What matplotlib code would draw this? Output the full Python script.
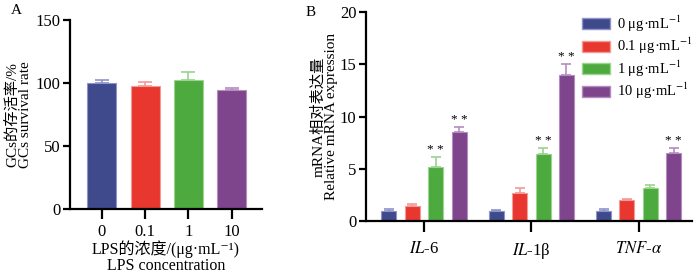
import numpy as np
import matplotlib
matplotlib.use("Agg")
import matplotlib.pyplot as plt
from matplotlib.patches import Patch

plt.rcParams['font.family'] = ['Liberation Serif', 'Noto Sans CJK SC', 'DejaVu Serif']
plt.rcParams['mathtext.fontset'] = 'stix'

# data
doses = ['0', '0.1', '1', '10']
survival = [100.0, 97.5, 102.0, 94.5]
survival_err = [2.0, 3.5, 7.0, 1.5]

genes = [r'$\it{IL}$-6', r'$\it{IL}$-1β', r'$\it{TNF}$-$\it{α}$']
expr = [[1.0, 1.0, 1.0],
        [1.4, 2.65, 2.0],
        [5.2, 6.45, 3.2],
        [8.5, 14.0, 6.5]]
expr_err = [[0.12, 0.1, 0.12],
            [0.2, 0.55, 0.15],
            [0.9, 0.5, 0.3],
            [0.5, 1.0, 0.5]]
# significance marks (dose index, gene index)
signif = [(2, 0), (3, 0), (2, 1), (3, 1), (3, 2)]
legend_labels = ['0 μg·mL$^{-1}$', '0.1 μg·mL$^{-1}$',
                 '1 μg·mL$^{-1}$', '10 μg·mL$^{-1}$']

colors = ['#3F4A8C', '#E8372F', '#4DAA3F', '#7E458C']
edges = ['#8E93C8', '#F29A95', '#9BD38F', '#B58CC0']

fig = plt.figure(figsize=(7, 2.73), dpi=100)


def style_axes(ax, xlen, xpad):
    for s in ('top', 'right'):
        ax.spines[s].set_visible(False)
    for s in ('left', 'bottom'):
        ax.spines[s].set_linewidth(1.6)
    ax.tick_params(width=1.6, labelsize=12)
    ax.tick_params(axis='y', length=5, pad=2)
    ax.tick_params(axis='x', length=xlen, pad=xpad)


# panel A
axA = fig.add_axes([0.1, 0.234, 0.274, 0.693])
x = np.arange(len(doses))
for i in range(len(doses)):
    axA.bar(x[i], survival[i], width=0.67, color=colors[i],
            edgecolor=edges[i], linewidth=0.8, zorder=2)
    axA.errorbar(x[i], survival[i], yerr=[[0], [survival_err[i]]],
                 fmt='none', ecolor=edges[i], elinewidth=1.2,
                 capsize=5, capthick=1.2, zorder=1)
axA.set_xlim(-0.74, 3.7)
axA.set_ylim(0, 150)
axA.set_yticks([0, 50, 100, 150])
axA.set_xticks(x)
axA.set_xticklabels(doses)
style_axes(axA, 7, 4)
axA.set_ylabel('GCs的存活率/%\nGCs survival rate', fontsize=11,
               linespacing=1.0, labelpad=2)
axA.set_xlabel('LPS的浓度/(μg·mL⁻¹)\nLPS concentration', fontsize=11.5,
               linespacing=1.0, labelpad=0)
fig.text(0.023, 0.96, 'A', fontsize=11, va='center', ha='center')

# panel B
axB = fig.add_axes([0.523, 0.19, 0.466, 0.766])
g = np.arange(len(genes))
offsets = [-0.327, -0.109, 0.109, 0.327]
w = 0.14
for i in range(len(expr)):
    axB.bar(g + offsets[i], expr[i], width=w, color=colors[i],
            edgecolor=edges[i], linewidth=0.8, zorder=2, label=legend_labels[i])
    axB.errorbar(g + offsets[i], expr[i], yerr=[np.zeros(3), expr_err[i]],
                 fmt='none', ecolor=edges[i], elinewidth=1.2,
                 capsize=3.5, capthick=1.2, zorder=1)
for di, gi in signif:
    top = expr[di][gi] + expr_err[di][gi]
    axB.text(gi + offsets[di], top + 0.1, '* *', ha='center', va='bottom',
             fontsize=9.5)
axB.set_xlim(-0.54, 2.5)
axB.set_ylim(0, 20)
axB.set_yticks([0, 5, 10, 15, 20])
axB.set_xticks(g)
axB.set_xticklabels(genes)
style_axes(axB, 8, 6)
axB.set_ylabel('mRNA相对表达量\nRelative mRNA expression', fontsize=11,
               linespacing=1.0, labelpad=1)
fig.text(0.443, 0.955, 'B', fontsize=11, va='center', ha='center')

handles = [Patch(facecolor=colors[i], edgecolor=edges[i]) for i in range(4)]
leg = axB.legend(handles, legend_labels, loc='upper right',
                 bbox_to_anchor=(1.02, 1.02), frameon=False, fontsize=10.5,
                 handlelength=1.9, handleheight=0.8, handletextpad=0.5,
                 labelspacing=0.15, borderaxespad=0)

fig.savefig('out.png', dpi=100)
